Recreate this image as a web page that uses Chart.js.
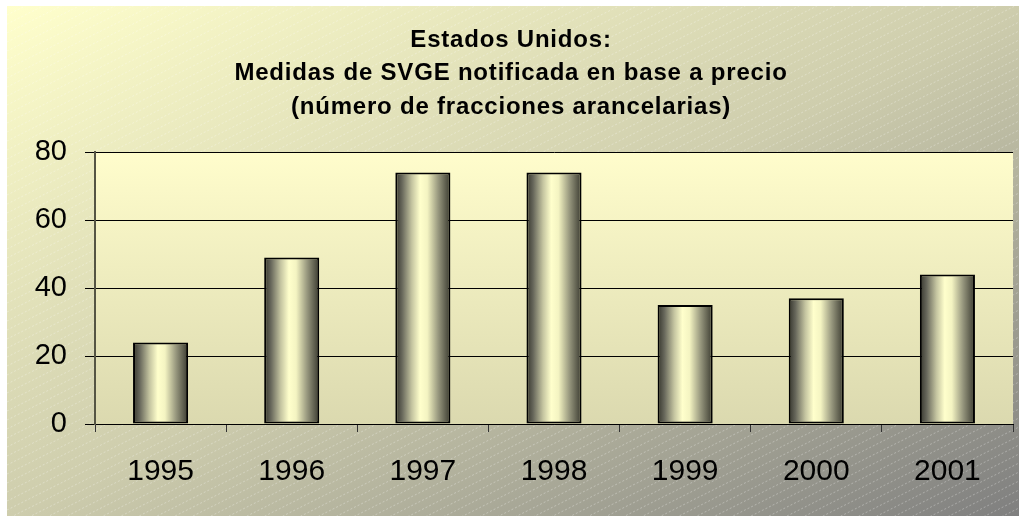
<!DOCTYPE html>
<html>
<head>
<meta charset="utf-8">
<script src="https://cdn.jsdelivr.net/npm/chart.js@4"></script>
<style>
  html, body { margin: 0; padding: 0; background: #ffffff; }
  #wrap { width: 1019px; height: 516px; }
</style>
</head>
<body>
<div id="wrap"><canvas id="svgeChart" width="1019" height="516"></canvas></div>
<script>
const years = ['1995', '1996', '1997', '1998', '1999', '2000', '2001'];
const fracciones = [24, 49, 74, 74, 35, 37, 44];
const yTicks = [0, 20, 40, 60, 80];
const titleLines = [
    'Estados Unidos:',
    'Medidas de SVGE notificada en base a precio',
    '(número de fracciones arancelarias)'
];

const BAR_PCT = 0.42;

// page background: diagonal gradient + thin dotted stripes, plot area in pale yellow
const backdrop = {
    id: 'backdrop',
    beforeDraw(chart) {
        const ctx = chart.ctx;
        const x0 = 7, y0 = 6, w = chart.width - x0, h = chart.height - y0;
        ctx.save();
        ctx.translate(x0, y0);
        ctx.scale(w, h);
        const g = ctx.createLinearGradient(0, 0, 1, 1);
        g.addColorStop(0, '#ffffcc');
        g.addColorStop(0.5, '#cecdad');
        g.addColorStop(1, '#7f7f7f');
        ctx.fillStyle = g;
        ctx.fillRect(0, 0, 1, 1);
        ctx.restore();

        ctx.save();
        ctx.beginPath();
        ctx.rect(x0, y0, w, h);
        ctx.clip();
        ctx.strokeStyle = 'rgba(255,255,255,0.3)';
        ctx.lineWidth = 1;
        ctx.setLineDash([2, 2]);
        const slope = 0.5;
        for (let c = 0; c < h + w * slope; c += 9) {
            ctx.beginPath();
            ctx.moveTo(x0, y0 + c);
            ctx.lineTo(x0 + w, y0 + c - w * slope);
            ctx.stroke();
        }
        ctx.restore();

        const a = chart.chartArea;
        ctx.save();
        const pg = ctx.createLinearGradient(0, a.top, 0, a.bottom);
        pg.addColorStop(0, '#fffdcc');
        pg.addColorStop(1, '#dbd9af');
        ctx.fillStyle = pg;
        ctx.fillRect(a.left, a.top, a.right - a.left, a.bottom - a.top);
        ctx.restore();
    }
};

// three-line title, slightly spaced out like the original
const titleText = {
    id: 'titleText',
    afterDraw(chart) {
        const ctx = chart.ctx;
        ctx.save();
        ctx.fillStyle = '#000000';
        ctx.font = 'bold 24px "Liberation Sans", Arial';
        ctx.letterSpacing = '0.8px';
        ctx.textAlign = 'center';
        ctx.textBaseline = 'middle';
        titleLines.forEach((line, i) => {
            ctx.fillText(line, 511, 40 + i * 33.5);
        });
        ctx.restore();
    }
};

function barFill(c) {
    const chart = c.chart;
    if (!chart.chartArea) return '#eeeebb';
    const xs = chart.scales.x;
    const cx = xs.getPixelForValue(c.dataIndex);
    const w = (xs.width / years.length) * BAR_PCT;
    const g = chart.ctx.createLinearGradient(cx - w / 2, 0, cx + w / 2, 0);
    g.addColorStop(0, '#35352c');
    g.addColorStop(0.12, '#66665a');
    g.addColorStop(0.3, '#c4c4a0');
    g.addColorStop(0.45, '#ffffcc');
    g.addColorStop(0.58, '#f4f4c2');
    g.addColorStop(0.78, '#97977e');
    g.addColorStop(1, '#3a3a30');
    return g;
}

new Chart(document.getElementById('svgeChart'), {
    type: 'bar',
    data: {
        labels: years,
        datasets: [{
            label: 'Fracciones',
            data: fracciones,
            backgroundColor: barFill,
            borderColor: '#000000',
            borderWidth: 2,
            borderSkipped: false,
            barPercentage: BAR_PCT,
            categoryPercentage: 1
        }]
    },
    options: {
        responsive: false,
        animation: false,
        layout: { padding: { left: 0, right: 6, top: 152, bottom: 0 } },
        plugins: {
            legend: { display: false },
            tooltip: { enabled: false },
            title: { display: false }
        },
        scales: {
            x: {
                offset: true,
                grid: {
                    offset: true,
                    drawOnChartArea: false,
                    drawTicks: true,
                    tickLength: 8,
                    color: '#333333',
                    lineWidth: 1
                },
                border: { display: true, color: '#000000', width: 1 },
                ticks: {
                    color: '#000000',
                    font: { family: 'Liberation Sans, Arial', size: 30 },
                    padding: 22,
                    maxRotation: 0
                },
                afterFit(scale) { scale.height = 92; }
            },
            y: {
                min: 0,
                max: 80,
                afterBuildTicks(scale) { scale.ticks = yTicks.map(v => ({ value: v })); },
                grid: {
                    color: '#000000',
                    lineWidth: 1,
                    drawTicks: true,
                    tickLength: 10
                },
                border: { display: true, color: '#555544', width: 2 },
                ticks: {
                    color: '#000000',
                    font: { family: 'Liberation Sans, Arial', size: 29 },
                    padding: 18
                },
                afterFit(scale) { scale.width = 95; }
            }
        }
    },
    plugins: [backdrop, titleText]
});
</script>
</body>
</html>
